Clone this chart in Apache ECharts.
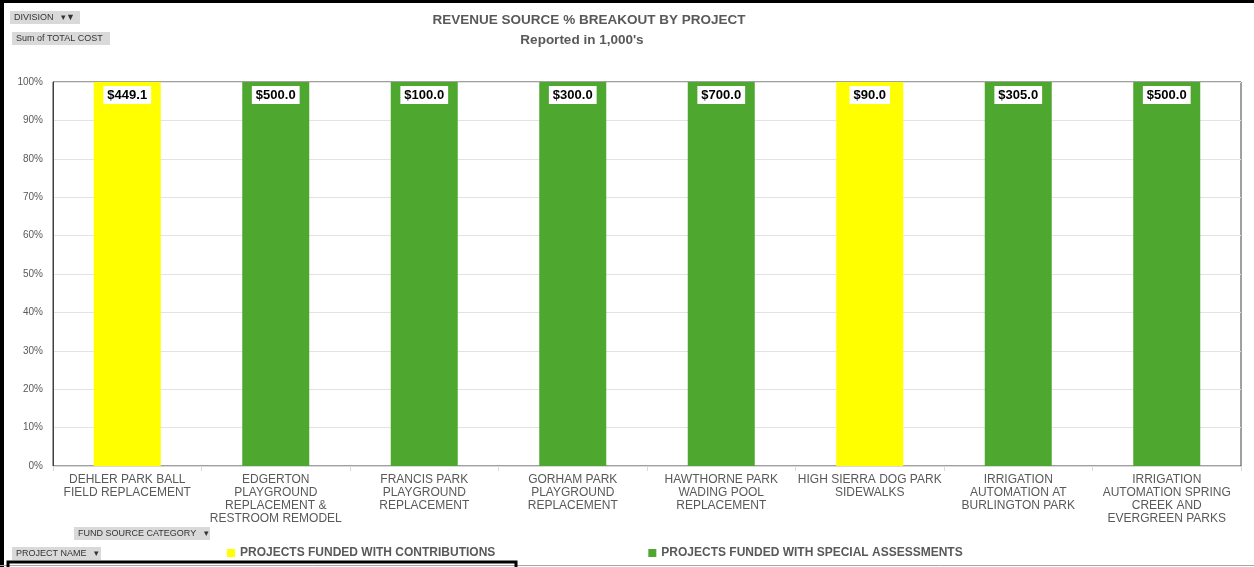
<!DOCTYPE html>
<html>
<head>
<meta charset="utf-8">
<script src="https://cdn.jsdelivr.net/npm/echarts@6/dist/echarts.min.js"></script>
<style>
  html, body { margin: 0; padding: 0; background: #fff; }
  #main { width: 1254px; height: 567px; }
</style>
</head>
<body>
<div id="main"></div>
<script>
// project names (x axis), already split into lines as in the source
const projects = [
  'DEHLER PARK BALL\nFIELD REPLACEMENT',
  'EDGERTON\nPLAYGROUND\nREPLACEMENT &\nRESTROOM REMODEL',
  'FRANCIS PARK\nPLAYGROUND\nREPLACEMENT',
  'GORHAM PARK\nPLAYGROUND\nREPLACEMENT',
  'HAWTHORNE PARK\nWADING POOL\nREPLACEMENT',
  'HIGH SIERRA DOG PARK\nSIDEWALKS',
  'IRRIGATION\nAUTOMATION AT\nBURLINGTON PARK',
  'IRRIGATION\nAUTOMATION SPRING\nCREEK AND\nEVERGREEN PARKS'
]
// total cost in $1,000's by fund source
const contributions = [449.1, 0, 0, 0, 0, 90.0, 0, 0]
const specialAssessments = [0, 500.0, 100.0, 300.0, 700.0, 0, 305.0, 500.0]
const yTicks = [0, 10, 20, 30, 40, 50, 60, 70, 80, 90, 100]

const totals = projects.map((p, i) => contributions[i] + specialAssessments[i])

function toPct(values) {
  return values.map((v, i) => ({
    value: totals[i] ? v / totals[i] * 100 : 0,
    raw: v,
    label: { show: v > 0 }
  }))
}

const font = 'Liberation Sans, Arial, sans-serif'

const labelStyle = {
  position: 'insideTop',
  distance: 4,
  formatter: p => '$' + p.data.raw.toFixed(1),
  color: '#000',
  fontWeight: 'bold',
  fontSize: 13,
  fontFamily: font,
  backgroundColor: '#fff',
  padding: [3, 4, 2, 4]
}

function filterBtn(x, y, w, text) {
  return {
    type: 'group',
    left: x, top: y,
    children: [
      { type: 'rect', shape: { x: 0, y: 0, width: w, height: 13 }, style: { fill: '#d9d9d9' } },
      { type: 'text', x: 4, y: 2, style: { text: text, fill: '#333', font: '9px "Liberation Sans", Arial, sans-serif' } }
    ]
  }
}

const option = {
  animation: false,
  title: [
    {
      text: 'REVENUE SOURCE % BREAKOUT BY PROJECT',
      left: 584,
      textAlign: 'center',
      top: 8,
      textStyle: { color: '#595959', fontSize: 13.5, fontWeight: 'bold', fontFamily: font }
    },
    {
      text: "Reported in 1,000's",
      left: 577,
      textAlign: 'center',
      top: 28,
      textStyle: { color: '#595959', fontSize: 13.5, fontWeight: 'bold', fontFamily: font }
    }
  ],
  legend: {
    left: 227,
    top: 547,
    padding: 0,
    itemWidth: 8,
    itemHeight: 8,
    itemGap: 153,
    icon: 'rect',
    textStyle: { color: '#595959', fontSize: 12, fontWeight: 'bold', fontFamily: font },
    data: ['PROJECTS FUNDED WITH CONTRIBUTIONS', 'PROJECTS FUNDED WITH SPECIAL ASSESSMENTS']
  },
  grid: {
    left: 53, right: 13, top: 82, bottom: 101,
    show: true,
    borderColor: '#404040',
    borderWidth: 1
  },
  xAxis: {
    type: 'category',
    data: projects,
    axisLine: { lineStyle: { color: '#d9d9d9' } },
    axisTick: { show: true, length: 5, lineStyle: { color: '#d9d9d9' } },
    axisLabel: {
      interval: 0,
      color: '#595959',
      fontSize: 12,
      lineHeight: 13,
      margin: 7,
      fontFamily: font
    }
  },
  yAxis: {
    type: 'value',
    min: 0, max: 100, interval: 10,
    axisLine: { show: true, lineStyle: { color: '#404040' } },
    axisLabel: {
      color: '#595959',
      fontSize: 10,
      margin: 10,
      fontFamily: font,
      formatter: v => yTicks.includes(v) ? v + '%' : ''
    },
    splitLine: { lineStyle: { color: '#e3e3e3' } }
  },
  series: [
    {
      name: 'PROJECTS FUNDED WITH CONTRIBUTIONS',
      type: 'bar',
      stack: 'total',
      barWidth: 67,
      itemStyle: { color: '#ffff00' },
      label: labelStyle,
      data: toPct(contributions)
    },
    {
      name: 'PROJECTS FUNDED WITH SPECIAL ASSESSMENTS',
      type: 'bar',
      stack: 'total',
      barWidth: 67,
      itemStyle: { color: '#4ea72e' },
      label: labelStyle,
      data: toPct(specialAssessments)
    }
  ],
  graphic: [
    filterBtn(10, 11, 70, 'DIVISION   ▾▼'),
    filterBtn(12, 32, 98, 'Sum of TOTAL COST'),
    filterBtn(74, 527, 136, 'FUND SOURCE CATEGORY   ▾'),
    filterBtn(12, 547, 89, 'PROJECT NAME   ▾'),
    { type: 'rect', shape: { x: 0, y: 0, width: 4, height: 567 }, style: { fill: '#000' } },
    { type: 'rect', shape: { x: 0, y: 0, width: 1254, height: 3 }, style: { fill: '#000' } },
    { type: 'line', shape: { x1: 0, y1: 565.5, x2: 1254, y2: 565.5 }, style: { stroke: '#a6a6a6', lineWidth: 1 } },
    { type: 'rect', shape: { x: 8, y: 562, width: 508, height: 10 }, style: { fill: 'none', stroke: '#000', lineWidth: 3 } }
  ]
}

const myChart = echarts.init(document.getElementById('main'))
myChart.setOption(option)
</script>
</body>
</html>
